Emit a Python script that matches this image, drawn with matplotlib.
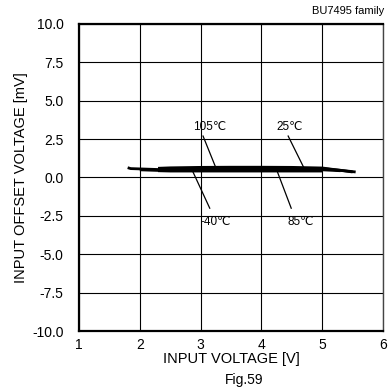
import numpy as np
from matplotlib import pyplot as plt

plt.rcParams['font.family'] = ['Liberation Sans', 'DejaVu Sans']

# input voltage [V] / input offset voltage [mV] per temperature
volt_m40 = [2.3, 2.5, 3.0, 3.5, 4.0, 4.5, 5.0]
vos_m40 = [0.44, 0.42, 0.42, 0.42, 0.42, 0.42, 0.42]

volt_25 = [1.8, 1.85, 2.0, 2.3, 2.5, 3.0, 3.5, 4.0, 4.5, 5.0, 5.3, 5.55]
vos_25 = [0.64, 0.58, 0.56, 0.52, 0.54, 0.56, 0.57, 0.57, 0.58, 0.58, 0.47, 0.36]

volt_85 = [2.0, 2.3, 2.5, 3.0, 3.5, 4.0, 4.5, 5.0, 5.3]
vos_85 = [0.5, 0.46, 0.48, 0.5, 0.5, 0.5, 0.5, 0.5, 0.44]

volt_105 = [2.3, 2.5, 3.0, 3.5, 4.0, 4.5, 5.0, 5.5]
vos_105 = [0.6, 0.63, 0.66, 0.67, 0.67, 0.66, 0.62, 0.36]

# label text, text position, leader line start/end
labels = ['105℃', '25℃', '-40℃', '85℃']
label_xy = [(3.14, 3.3), (4.47, 3.3), (3.25, -2.9), (4.65, -2.9)]
leader_from = [(3.04, 2.7), (4.44, 2.7), (2.87, 0.4), (4.26, 0.4)]
leader_to = [(3.25, 0.64), (4.7, 0.62), (3.15, -2.0), (4.49, -2.0)]

x_ticks = [1, 2, 3, 4, 5, 6]
y_ticks = np.arange(-10, 10.1, 2.5)

fig = plt.figure(figsize=(3.9, 3.87), dpi=100)
ax = fig.add_axes([0.2026, 0.1447, 0.7795, 0.7933])

for v, o in [(volt_m40, vos_m40), (volt_25, vos_25), (volt_85, vos_85), (volt_105, vos_105)]:
    ax.plot(v, o, color='black', lw=2.0, solid_capstyle='butt')

for txt, xy, a, b in zip(labels, label_xy, leader_from, leader_to):
    ax.plot([a[0], b[0]], [a[1], b[1]], color='black', lw=0.9)
    ax.text(xy[0], xy[1], txt, fontsize=8.5, ha='center', va='center')

ax.set_xlim(1, 6)
ax.set_ylim(-10, 10)
ax.set_xticks(x_ticks)
ax.set_yticks(y_ticks)
ax.set_yticklabels([f'{t:.1f}' for t in y_ticks])
ax.grid(True, color='black', lw=0.8)
ax.tick_params(axis='both', direction='in', length=0, labelsize=10)
ax.tick_params(axis='y', pad=11)
ax.tick_params(axis='x', pad=5)

for s in ['left', 'bottom', 'top']:
    ax.spines[s].set_linewidth(1.6)
ax.spines['right'].set_linewidth(1.0)
ax.spines['right'].set_color('#444444')

ax.set_xlabel('INPUT VOLTAGE [V]', fontsize=10.5, labelpad=0)
ax.set_ylabel('INPUT OFFSET VOLTAGE [mV]', fontsize=10.5, labelpad=3)

fig.text(0.985, 0.985, 'BU7495 family', fontsize=8, ha='right', va='top')
fig.text(0.625, 0.001, 'Fig.59', fontsize=10, ha='center', va='bottom')

fig.savefig('out.png', dpi=100)
